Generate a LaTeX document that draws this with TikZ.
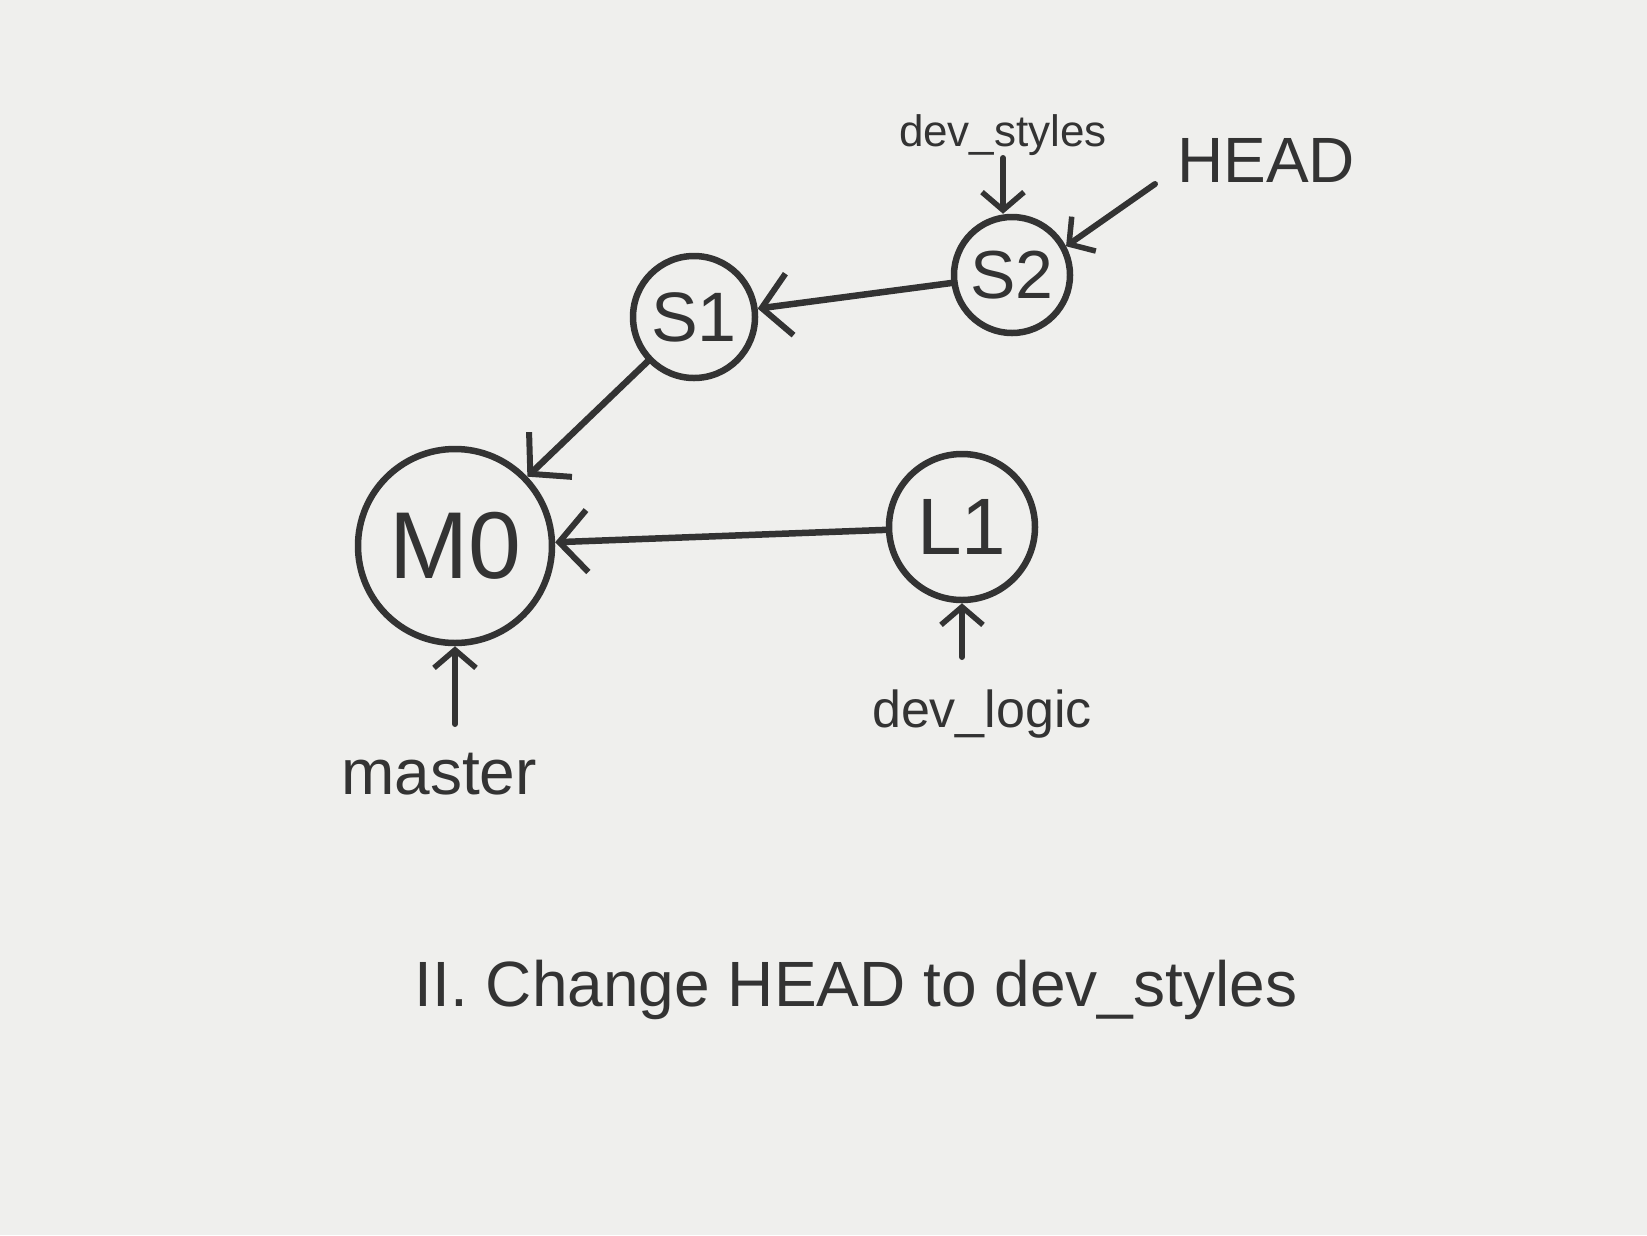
\documentclass[tikz,border=0pt]{standalone}
\usepackage{fontspec}
\setmainfont{Liberation Sans}
\usetikzlibrary{arrows.meta}
\definecolor{paper}{HTML}{EFEFED}
\definecolor{ink}{HTML}{333333}
\begin{document}
\begin{tikzpicture}[x=1pt,y=-1pt,
  commit/.style={circle,draw=ink,line width=6.5pt,inner sep=0pt,text=ink},
  lbl/.style={text=ink,inner sep=2pt},
  edge/.style={draw=ink,line width=6.5pt,line cap=round,
    -{Straight Barb[length=28pt,width=62pt,line width=6pt]}},
  ptr/.style={draw=ink,line width=6pt,line cap=round,
    -{Straight Barb[length=18pt,width=42pt,line width=5.5pt]}}]
\fill[paper] (0,0) rectangle (1647,1235);
\useasboundingbox (0,0) rectangle (1647,1235);
% commits
\node[commit,minimum size=194pt,font=\fontsize{95}{100}\selectfont] (m0) at (455,546) {M0};
\node[commit,minimum size=122pt,font=\fontsize{70}{75}\selectfont] (s1) at (694,317) {S1};
\node[commit,minimum size=116pt,font=\fontsize{68}{72}\selectfont] (s2) at (1012,275) {S2};
\node[commit,minimum size=146pt,font=\fontsize{80}{85}\selectfont] (l1) at (962,527) {L1};
% labels
\node[lbl,font=\fontsize{44}{48}\selectfont] (ds) at (1003,135) {dev\_styles};
\node[lbl,font=\fontsize{64}{68}\selectfont] (head) at (1266,160) {HEAD};
\node[lbl,font=\fontsize{64}{68}\selectfont] (master) at (439,774) {master};
\node[lbl,font=\fontsize{52}{56}\selectfont] (dl) at (982,714) {dev\_logic};
\node[lbl,font=\fontsize{64}{68}\selectfont] (cap) at (856,990) {II. Change HEAD to dev\_styles};
% free ends of pointers
\coordinate (dsend) at (1003,158);
\coordinate (headend) at (1155,184);
\coordinate (masterend) at (455,724);
\coordinate (dlend) at (962,657);
% edges
\draw[edge] (s2) -- (s1);
\draw[edge] (s1) -- (m0);
\draw[edge] (l1) -- (m0);
% pointers
\draw[ptr] (dsend) -- (dsend |- s2.north);
\draw[ptr] (headend) -- (s2.28);
\draw[ptr] (masterend) -- (m0.south);
\draw[ptr] (dlend) -- (l1.south);
\end{tikzpicture}
\end{document}
